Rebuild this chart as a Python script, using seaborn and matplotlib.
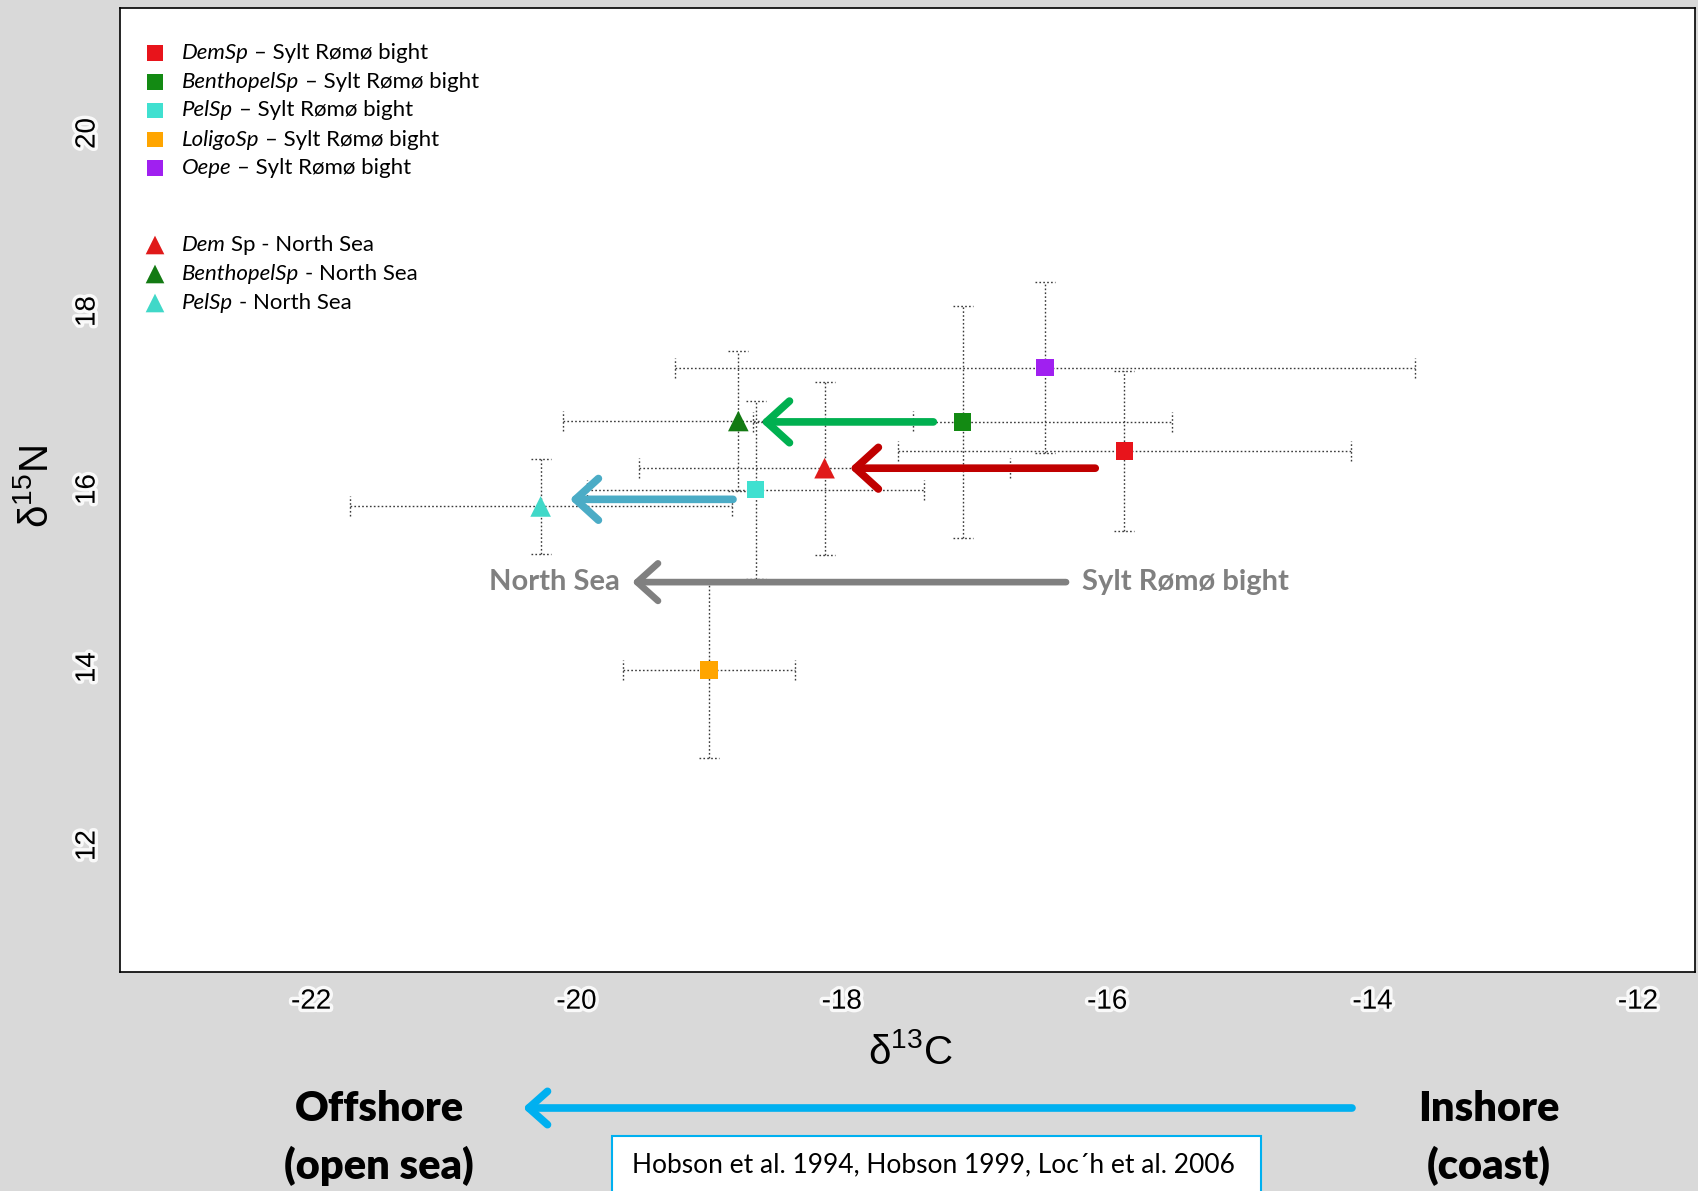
import numpy as np
import pandas as pd
import matplotlib
matplotlib.use("Agg")
import matplotlib.pyplot as plt
import matplotlib.patheffects as pe
from matplotlib.patches import FancyArrowPatch, Rectangle
import seaborn as sns

# ---- data: Sylt Rømø bight (squares) ----
srb_groups = ["DemSp", "BenthopelSp", "PelSp", "LoligoSp", "Oepe"]
srb_d13c = [-15.87, -17.09, -18.65, -19.00, -16.47]
srb_d13c_sd = [1.71, 1.58, 1.27, 0.65, 2.79]
srb_d15n = [16.43, 16.76, 16.00, 13.97, 17.37]
srb_d15n_sd = [0.90, 1.30, 1.00, 0.99, 0.96]
srb_colors = ["#E8141B", "#138A13", "#40E0D0", "#FFA500", "#A020F0"]

# ---- data: North Sea (triangles) ----
ns_groups = ["Dem Sp", "BenthopelSp", "PelSp"]
ns_d13c = [-18.13, -18.78, -20.27]
ns_d13c_sd = [1.40, 1.32, 1.44]
ns_d15n = [16.24, 16.77, 15.81]
ns_d15n_sd = [0.97, 0.79, 0.53]
ns_colors = ["#E01A1A", "#137A13", "#40D8C8"]

# ---- shift arrows (bight -> North Sea) ----
shift_y = [16.76, 16.24, 15.89]
shift_from = [-17.31, -16.09, -18.82]
shift_to = [-18.61, -17.94, -20.05]
shift_colors = ["#00B050", "#C00000", "#4BACC6"]

overall_y = 14.96
overall_from = -16.31
overall_to = -19.58

x_ticks = [-22, -20, -18, -16, -14, -12]
y_ticks = [12, 14, 16, 18, 20]

sns.set_style("white")
plt.rcParams["font.family"] = ["Lato", "DejaVu Sans"]
plt.rcParams["mathtext.default"] = "regular"
plt.rcParams["text.color"] = "black"

W, H = 1698, 1191
fig = plt.figure(figsize=(W / 100, H / 100), dpi=100, facecolor="#D9D9D9")
ax = fig.add_axes([120 / W, 1 - 972 / H, 1575 / W, 964 / H])
ax.set_facecolor("white")

srb = pd.DataFrame({"group": srb_groups, "d13c": srb_d13c, "d15n": srb_d15n,
                    "xsd": srb_d13c_sd, "ysd": srb_d15n_sd})
ns = pd.DataFrame({"group": ns_groups, "d13c": ns_d13c, "d15n": ns_d15n,
                   "xsd": ns_d13c_sd, "ysd": ns_d15n_sd})

xlim = (-23.44, -11.57)
ylim = (10.58, 21.41)
# half cap lengths in data units (about 10 px each way)
cap_dx = 10 * (xlim[1] - xlim[0]) / 1575
cap_dy = 10 * (ylim[1] - ylim[0]) / 964
dots = (0, (1.2, 1.6))
err_col = "#3a3a3a"

# dotted error bars with dotted caps
for d in (srb, ns):
    eb = ax.errorbar(d["d13c"], d["d15n"], xerr=d["xsd"], yerr=d["ysd"], fmt="none",
                     ecolor=err_col, elinewidth=1.0, capsize=0, zorder=1)
    for lc in eb[2]:
        lc.set_linestyle(dots)
    x, y, xs, ys = d["d13c"], d["d15n"], d["xsd"], d["ysd"]
    for xe in (x - xs, x + xs):
        ax.vlines(xe, y - cap_dy, y + cap_dy, colors=err_col, lw=1.0,
                  linestyles=dots, zorder=1)
    for ye in (y - ys, y + ys):
        ax.hlines(ye, x - cap_dx, x + cap_dx, colors=err_col, lw=1.0,
                  linestyles=dots, zorder=1)

# coloured arrows showing the shift from the bight to the North Sea
for y, x0, x1, c in zip(shift_y, shift_from, shift_to, shift_colors):
    ax.annotate("", xy=(x1, y), xytext=(x0, y),
                arrowprops=dict(arrowstyle="->,head_length=0.55,head_width=0.5",
                                color=c, lw=5.5, shrinkA=0, shrinkB=0,
                                mutation_scale=30, joinstyle="round", capstyle="round"),
                zorder=2)

ax.annotate("", xy=(overall_to, overall_y), xytext=(overall_from, overall_y),
            arrowprops=dict(arrowstyle="->,head_length=0.5,head_width=0.45",
                            color="#808080", lw=4.8, shrinkA=0, shrinkB=0,
                            mutation_scale=30, joinstyle="round", capstyle="round"),
            zorder=2)
ax.text(overall_to - 0.09, overall_y, "North Sea", ha="right", va="center",
        color="#808080", fontsize=21, fontweight="bold", zorder=3)
ax.text(overall_from + 0.12, overall_y, "Sylt Rømø bight", ha="left", va="center",
        color="#808080", fontsize=21, fontweight="bold", zorder=3)

# markers
sns.scatterplot(data=srb, x="d13c", y="d15n", hue="group",
                palette=dict(zip(srb_groups, srb_colors)), marker="s", s=160,
                edgecolor="none", legend=False, ax=ax, zorder=4)
sns.scatterplot(data=ns, x="d13c", y="d15n", hue="group",
                palette=dict(zip(ns_groups, ns_colors)), marker="^", s=220,
                edgecolor="none", legend=False, ax=ax, zorder=4)

ax.set_xlim(*xlim)
ax.set_ylim(*ylim)
ax.set_xticks(x_ticks)
ax.set_yticks(y_ticks)
ax.set_xlabel("")
ax.set_ylabel("")
halo = [pe.withStroke(linewidth=5, foreground="white", alpha=0.85)]
ax.set_xticklabels([str(t) for t in x_ticks], family="Liberation Sans", fontsize=20,
                   color="black", path_effects=halo)
ax.set_yticklabels([str(t) for t in y_ticks], family="Liberation Sans", fontsize=20,
                   color="black", rotation=90, va="center", path_effects=halo)
ax.tick_params(axis="both", direction="out", length=8, width=1, color="black")
ax.tick_params(axis="x", pad=4)
ax.tick_params(axis="y", pad=6)
for s in ax.spines.values():
    s.set_color("black")
    s.set_linewidth(1.2)

# axis titles
fig.text(910 / W, 1 - 1052 / H, r"δ$^{13}$C", ha="center", va="center",
         fontsize=29, family="Liberation Sans")
fig.text(36 / W, 1 - 487 / H, r"δ$^{15}$N", ha="center", va="center",
         fontsize=29, family="Liberation Sans", rotation=90)

# legend
leg_rows = [
    ("DemSp", "– Sylt Rømø bight", srb_colors[0], "s", 53),
    ("BenthopelSp", "– Sylt Rømø bight", srb_colors[1], "s", 82),
    ("PelSp", "– Sylt Rømø bight", srb_colors[2], "s", 110.5),
    ("LoligoSp", "– Sylt Rømø bight", srb_colors[3], "s", 139.5),
    ("Oepe", "– Sylt Rømø bight", srb_colors[4], "s", 168),
    ("Dem", "Sp - North Sea", ns_colors[0], "^", 245),
    ("BenthopelSp", "- North Sea", ns_colors[1], "^", 274),
    ("PelSp", "- North Sea", ns_colors[2], "^", 303),
]
for ital, rest, col, mk, ypx in leg_rows:
    ya = (972 - ypx) / 964
    ax.scatter([(155 - 120) / 1575], [ya], marker=mk, s=130 if mk == "s" else 180,
               color=col, edgecolor="none", transform=ax.transAxes, clip_on=False, zorder=5)
    t = ax.text((182 - 120) / 1575, ya, ital, style="italic", fontsize=16,
                va="center", ha="left", transform=ax.transAxes)
    ax.annotate(rest, xy=(1, 0.5), xycoords=t, xytext=(4, 0), textcoords="offset points",
                va="center", ha="left", fontsize=16)

# inshore / offshore gradient below the plot
for label, xpx, ypx in [("Offshore", 379, 1109), ("(open sea)", 379, 1166),
                        ("Inshore", 1489, 1109), ("(coast)", 1489, 1166)]:
    fig.text(xpx / W, 1 - ypx / H, label, ha="center", va="center",
             fontsize=30, fontweight="heavy", color="black")
fig.patches.append(FancyArrowPatch((1352 / W, 1 - 1108 / H), (523 / W, 1 - 1108 / H),
                                   transform=fig.transFigure,
                                   arrowstyle="->,head_length=0.45,head_width=0.4",
                                   mutation_scale=30, color="#00B0F0", lw=5.5,
                                   shrinkA=0, shrinkB=0, joinstyle="round",
                                   capstyle="round"))
fig.patches.append(Rectangle((612 / W, -0.01), (1261 - 612) / W, 0.01 + 1 - 1136 / H,
                             transform=fig.transFigure, facecolor="white",
                             edgecolor="#00B0F0", lw=1.5))
fig.text(933 / W, 1 - 1165 / H, "Hobson et al. 1994, Hobson 1999, Loc´h et al. 2006",
         ha="center", va="center", fontsize=19, color="black")

fig.savefig("out.png", dpi=100, facecolor=fig.get_facecolor())
